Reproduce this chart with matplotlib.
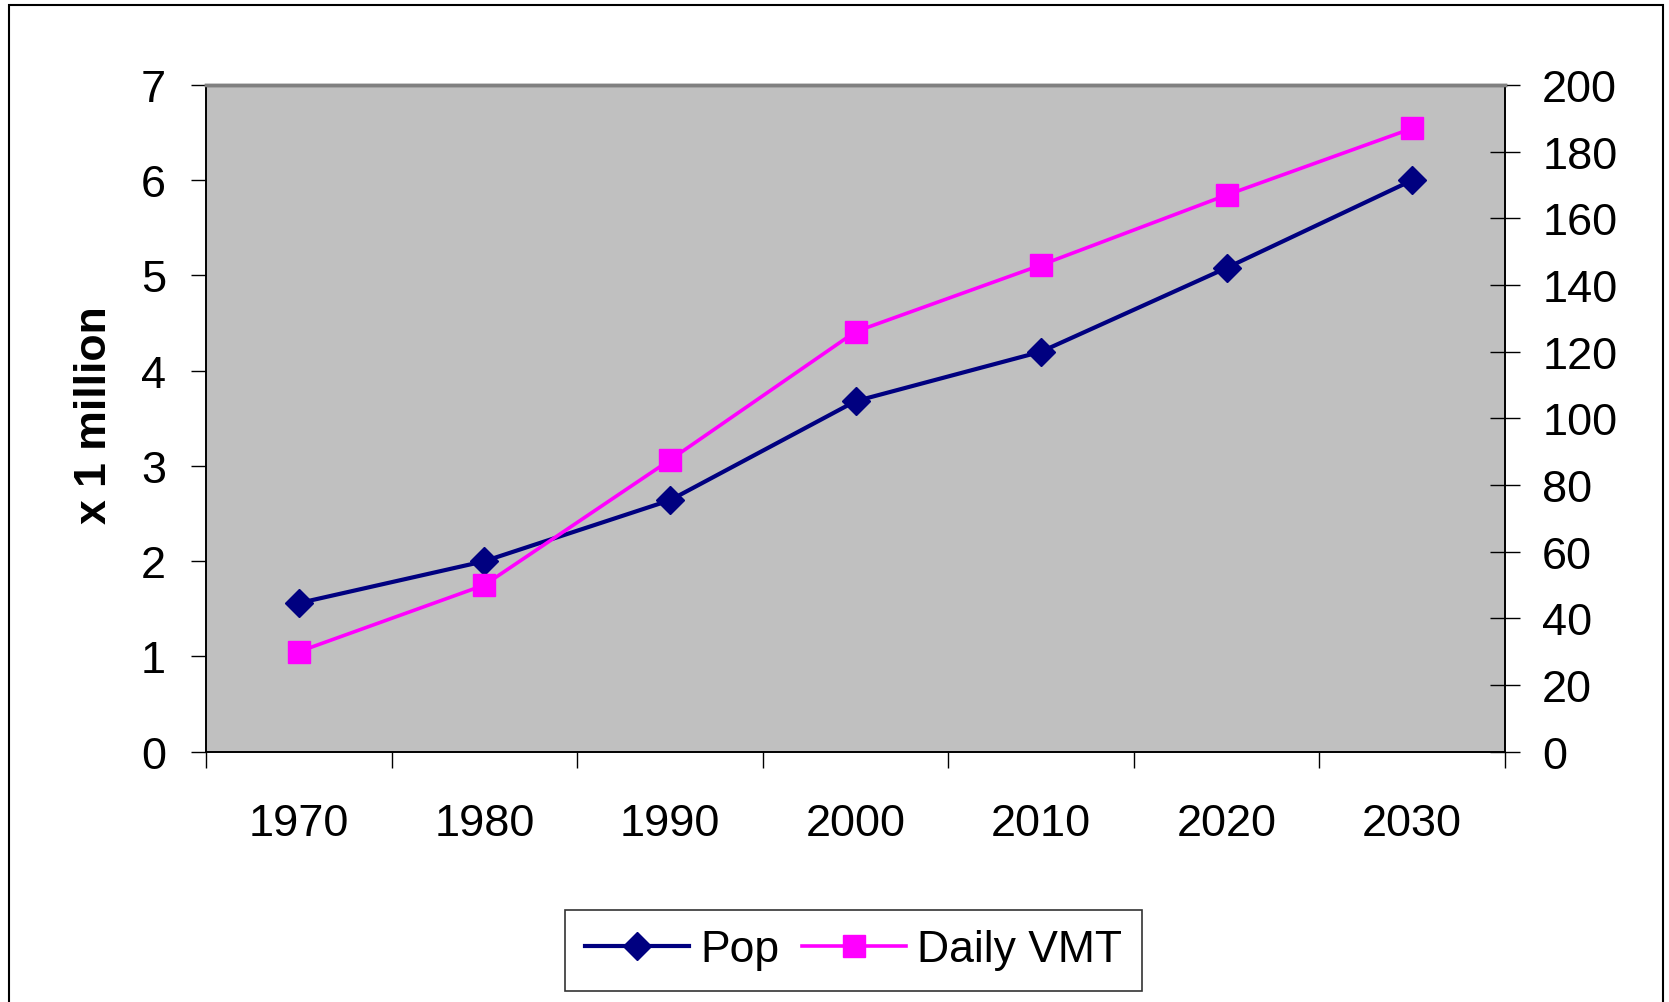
import matplotlib
matplotlib.use("Agg")
import matplotlib.pyplot as plt
from matplotlib.patches import Rectangle

plt.rcParams['font.family'] = ['Liberation Sans', 'DejaVu Sans']

years = ['1970', '1980', '1990', '2000', '2010', '2020', '2030']
pop = [1.56, 2.0, 2.64, 3.68, 4.2, 5.08, 6.0]
vmt = [30, 50, 87.5, 126, 146, 167, 187]
left_ticks = [0, 1, 2, 3, 4, 5, 6, 7]
right_ticks = [0, 20, 40, 60, 80, 100, 120, 140, 160, 180, 200]

W, H = 1669, 1003
fig = plt.figure(figsize=(W / 100, H / 100), dpi=100)
fig.patch.set_facecolor('white')

# outer chart border
fig.patches.append(Rectangle((9 / W, -0.01), (1663 - 9) / W, 1.01 - 6 / H,
                             transform=fig.transFigure, fill=False,
                             edgecolor='black', linewidth=1.5))

l, r, t, b = 206 / W, 1505 / W, 1 - 86 / H, 1 - 752.7 / H
ax = fig.add_axes([l, b, r - l, t - b])
ax.set_facecolor('#C0C0C0')
ax2 = ax.twinx()

x = list(range(len(years)))
navy = '#000080'
mag = '#FF00FF'
ln1, = ax.plot(x, pop, color=navy, lw=3, marker='D', markersize=14.5,
               markerfacecolor=navy, markeredgecolor=navy, mew=1, zorder=3,
               clip_on=False)
ln2, = ax2.plot(x, vmt, color=mag, lw=2.6, marker='s', markersize=16,
                markerfacecolor=mag, markeredgecolor=mag, mew=1, zorder=3,
                clip_on=False)

ax.set_xlim(-0.5, len(years) - 0.5)
ax.set_ylim(0, 7)
ax2.set_ylim(0, 200)
ax.set_yticks(left_ticks)
ax.set_yticklabels([str(v) for v in left_ticks])
ax2.set_yticks(right_ticks)
ax2.set_yticklabels([str(v) for v in right_ticks])

ax.set_xticks([i - 0.5 for i in range(len(years) + 1)])
ax.set_xticklabels([])
ax.set_xticks(x, minor=True)
ax.set_xticklabels(years, minor=True)
ax.tick_params(axis='x', which='major', direction='out', length=11.5, width=1, color='black')
ax.tick_params(axis='x', which='minor', length=0, pad=37, labelsize=32.5)
ax.tick_params(axis='y', direction='out', length=10.8, width=1, pad=18, labelsize=32.5)
ax2.tick_params(axis='y', direction='inout', length=21.6, width=1, pad=16, labelsize=32.5)

for a in (ax, ax2):
    for s in ('left', 'bottom', 'right'):
        a.spines[s].set_color('black')
        a.spines[s].set_linewidth(1.2)
    a.spines['top'].set_color('#808080')
    a.spines['top'].set_linewidth(2.5)

ax.text(-0.0855, 0.506, 'x 1 million', transform=ax.transAxes, rotation=90,
        ha='center', va='center', fontsize=32, fontweight='bold')

leg = fig.legend([ln1, ln2], ['Pop', 'Daily VMT'], loc='center',
                 bbox_to_anchor=(853.5 / W, 52 / H), ncol=2, fontsize=32,
                 frameon=True, fancybox=False, edgecolor='black',
                 handlelength=2.34, handletextpad=0.24, columnspacing=0.52,
                 borderpad=0.45, borderaxespad=0)
leg.get_frame().set_linewidth(1.2)
for h in leg.legend_handles:
    h.set_markersize(h.get_markersize() * 0.95)

fig.savefig('out.png', dpi=100)
